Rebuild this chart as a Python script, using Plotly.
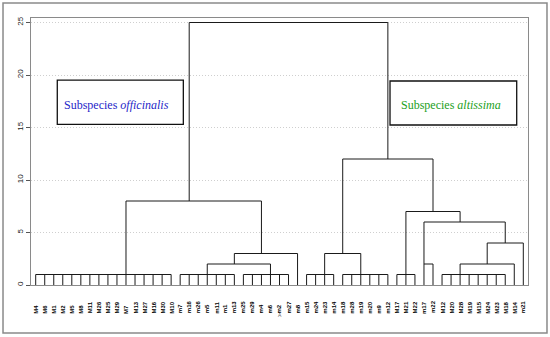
import math
import plotly.graph_objects as go

# ---------------- data ----------------
leaf_labels = [
    "M4", "M6", "M1", "M2", "M5", "M8", "M11", "M26", "M25", "M29", "M7", "M13", "M27", "M16", "M30", "M10",
    "m7", "m16", "m26", "m5", "m11", "m1", "m13", "m25", "m29", "m4", "m6", "m2", "m27", "m8",
    "m15", "m24", "m23", "m14", "m18", "m28", "m19", "m20", "m9", "m12",
    "M17", "M21", "M22", "m17", "m22", "M12", "M20", "M28", "M19", "M15", "M24", "M23", "M18", "M14", "m21",
]

# merge table (in order): node name, children (leaves or earlier nodes), merge height
node_names = ["c1", "c2a", "c2b", "n1", "n2", "n3",
              "c3a", "c3b", "n4",
              "c4a", "n5", "c4b", "n6", "n7", "n8", "n9", "n10", "root"]
node_children = [
    ["M4", "M6", "M1", "M2", "M5", "M8", "M11", "M26", "M25", "M29", "M7", "M13", "M27", "M16", "M30", "M10"],
    ["m7", "m16", "m26", "m5", "m11", "m1", "m13"],
    ["m25", "m29", "m4", "m6", "m2", "m27"],
    ["c2a", "c2b"],
    ["n1", "m8"],
    ["c1", "n2"],
    ["m15", "m24", "m23", "m14"],
    ["m18", "m28", "m19", "m20", "m9", "m12"],
    ["c3a", "c3b"],
    ["M17", "M21", "M22"],
    ["m17", "m22"],
    ["M12", "M20", "M28", "M19", "M15", "M24", "M23", "M18"],
    ["c4b", "M14"],
    ["n6", "m21"],
    ["n5", "n7"],
    ["c4a", "n8"],
    ["n4", "n9"],
    ["n3", "n10"],
]
node_heights = [1, 1, 1, 2, 3, 8,
                1, 1, 3,
                1, 2, 1, 2, 4, 6, 7, 12, 25]

# leaf through which each multi-leaf group's branch leaves the group
group_stem_leaf = {"c1": "M7", "c2a": "m5", "c2b": "m6", "c3a": "m23",
                   "c3b": "m19", "c4a": "M21", "c4b": "M28"}

y_ticks = [0, 5, 10, 15, 20, 25]
group_texts = ["Subspecies <i>officinalis</i>", "Subspecies <i>altissima</i>"]

# ---------------- dendrogram geometry ----------------
pos = {lab: i for i, lab in enumerate(leaf_labels)}
hgt = {lab: 0 for lab in leaf_labels}
xs, ys = [], []
for name, kids, h in zip(node_names, node_children, node_heights):
    kx = [pos[k] for k in kids]
    # horizontal bar
    xs += [min(kx), max(kx), None]
    ys += [h, h, None]
    # vertical branches of children
    for k in kids:
        xs += [pos[k], pos[k], None]
        ys += [hgt[k], h, None]
    if name in group_stem_leaf:
        pos[name] = pos[group_stem_leaf[name]]
    else:
        pos[name] = math.floor((kx[0] + kx[-1]) / 2)
    hgt[name] = h

fig = go.Figure()
fig.add_trace(go.Scatter(x=xs, y=ys, mode="lines",
                         line=dict(color="#1a1a1a", width=1),
                         hoverinfo="skip", showlegend=False))

# leaf labels (bottom aligned, vertical)
for i, lab in enumerate(leaf_labels):
    fig.add_annotation(x=i, y=-0.1105, xref="x", yref="paper", text="<b>" + lab + "</b>",
                       textangle=-90, showarrow=False, xanchor="center", yanchor="bottom",
                       font=dict(family="Liberation Sans", size=6, color="#000000"),
                       borderpad=0)
fig.add_annotation(x=0.5, y=-0.131, xref="paper", yref="paper", text="A",
                   showarrow=False, font=dict(family="Liberation Sans", size=5, color="#666666"))

# group boxes
fig.add_shape(type="rect", xref="x", yref="y", x0=2.39, x1=16.35, y0=15.3, y1=19.52,
              line=dict(color="#111111", width=1.3), fillcolor="white", layer="above")
fig.add_shape(type="rect", xref="x", yref="y", x0=39.24, x1=53.27, y0=15.24, y1=19.43,
              line=dict(color="#111111", width=1.3), fillcolor="white", layer="above")
fig.add_annotation(x=2.88, y=17.14, xref="x", yref="y", text=group_texts[0], showarrow=False,
                   xanchor="left", yanchor="middle",
                   font=dict(family="Liberation Serif", size=12, color="#2626c8"))
fig.add_annotation(x=40.27, y=17.14, xref="x", yref="y", text=group_texts[1], showarrow=False,
                   xanchor="left", yanchor="middle",
                   font=dict(family="Liberation Serif", size=12, color="#22a022"))

# outer frame around the whole picture
fig.add_shape(type="rect", xref="paper", yref="paper", x0=-0.0563, x1=1.0382, y0=-0.1798, y1=1.0562,
              line=dict(color="#8a8a8a", width=1.5))

fig.update_layout(
    width=550, height=337,
    margin=dict(l=31, r=22, t=18, b=52),
    paper_bgcolor="white", plot_bgcolor="white",
    xaxis=dict(range=[-0.52, 54.52], showticklabels=False, ticks="", showgrid=False,
               zeroline=False, showline=True, mirror=True, linecolor="#8a8a8a", linewidth=1),
    yaxis=dict(range=[0, 25.43], tickvals=y_ticks, ticks="outside", ticklen=4, tickcolor="#555555",
               tickangle=-90, tickfont=dict(family="Liberation Sans", size=8, color="#222222"),
               showgrid=True, griddash="1px,2px", gridcolor="#cfcfcf", gridwidth=1,
               zeroline=False, showline=True, mirror=True, linecolor="#8a8a8a", linewidth=1),
)

fig.write_html("out.html", config={"displayModeBar": False},
               post_script="document.body.style.margin='0px';document.body.style.overflow='hidden';")
